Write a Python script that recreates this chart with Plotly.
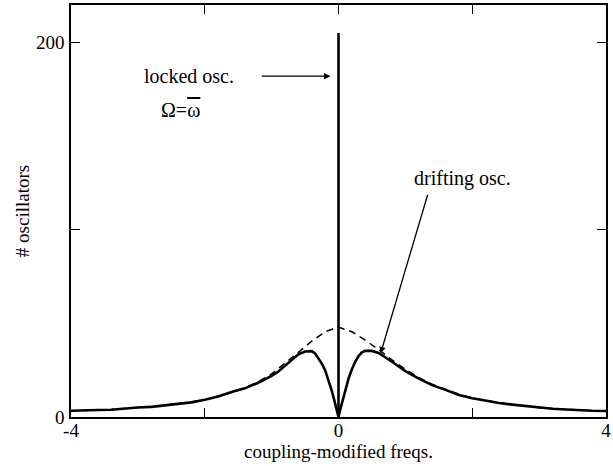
import plotly.graph_objects as go

# solid curve: total distribution (drifting part)
solid_x = [-4.0,-3.8,-3.6,-3.4,-3.2,-3.0,-2.8,-2.6,-2.4,-2.2,-2.0,-1.8,-1.6,-1.4,-1.2,-1.0,-0.9,-0.8,-0.7,-0.6,-0.5,-0.45,-0.4,-0.35,-0.3,-0.25,-0.2,-0.15,-0.1,-0.06,-0.03,0.0,
           0.03,0.06,0.1,0.15,0.2,0.25,0.3,0.35,0.4,0.45,0.5,0.6,0.7,0.8,0.9,1.0,1.2,1.4,1.6,1.8,2.0,2.2,2.4,2.6,2.8,3.0,3.2,3.4,3.6,3.8,4.0]
solid_y = [3.3,3.3,3.7,3.9,4.6,5.1,5.4,6.2,6.8,7.8,9.2,10.9,13.3,15.3,18.3,22.0,24.3,27.2,30.5,33.5,35.0,35.3,35.2,34.0,31.5,28.5,25.0,20.0,14.0,8.5,4.5,0.0,
           4.5,8.5,14.5,20.5,25.5,29.5,32.5,34.5,35.3,35.5,35.3,34.2,32.0,29.5,27.0,24.5,20.5,17.0,14.5,11.8,10.0,8.6,7.5,6.6,5.8,5.0,4.4,4.0,3.5,3.3,3.2]

# locked oscillators spike
locked_x = [0.0, 0.0]
locked_y = [0.0, 205.0]

# dashed curve: uncoupled frequency distribution
dash_x = [-4.0,-3.8,-3.6,-3.4,-3.2,-3.0,-2.8,-2.6,-2.4,-2.2,-2.0,-1.8,-1.6,-1.4,-1.2,-1.0,-0.8,-0.6,-0.4,-0.2,0.0,
          0.2,0.4,0.6,0.8,1.0,1.2,1.4,1.6,1.8,2.0,2.2,2.4,2.6,2.8,3.0,3.2,3.4,3.6,3.8,4.0]
dash_y = [3.2,3.4,3.7,4.0,4.6,5.0,5.6,6.3,7.0,8.0,9.2,10.9,13.0,15.6,18.8,23.0,28.5,34.5,40.5,45.5,48.0,
          45.5,41.0,36.0,30.5,25.5,21.0,17.5,14.8,12.2,10.2,8.8,7.6,6.7,5.8,5.0,4.5,4.0,3.6,3.3,3.2]

x_tickvals = [-4, -2, 0, 2, 4]
x_ticktext = ["-4", "", "0", "", "4"]
y_tickvals = [0, 100, 200]
y_ticktext = ["0", "", "200"]

FONT = "Liberation Serif"
FS = 19
FA = 20

fig = go.Figure()
fig.add_trace(go.Scatter(x=dash_x, y=dash_y, mode="lines",
                         line=dict(color="black", width=1.5, dash="7px,5px"), showlegend=False))
fig.add_trace(go.Scatter(x=solid_x, y=solid_y, mode="lines",
                         line=dict(color="black", width=2.6), showlegend=False))
fig.add_trace(go.Scatter(x=locked_x, y=locked_y, mode="lines",
                         line=dict(color="black", width=2.6), showlegend=False))

fig.add_annotation(x=-2.23, y=182, text="locked osc.", showarrow=False,
                   xref="x", yref="y", font=dict(size=FA, color="black", family=FONT))
fig.add_annotation(x=-2.37, y=164, text="Ω=<span style='text-decoration:overline'>ω</span>", showarrow=False,
                   xref="x", yref="y", font=dict(size=FA, color="black", family=FONT))
fig.add_annotation(x=-0.12, y=182, ax=-1.17, ay=182, axref="x", ayref="y",
                   xref="x", yref="y", text="", showarrow=True,
                   arrowhead=2, arrowsize=1, arrowwidth=1.3, arrowcolor="black")
fig.add_annotation(x=1.86, y=127.5, text="drifting osc.", showarrow=False,
                   xref="x", yref="y", font=dict(size=FA, color="black", family=FONT))
fig.add_annotation(x=0.63, y=34, ax=1.34, ay=119.5, axref="x", ayref="y",
                   xref="x", yref="y", text="", showarrow=True,
                   arrowhead=2, arrowsize=1, arrowwidth=1.3, arrowcolor="black")

axis_common = dict(showline=True, linecolor="black", linewidth=1.5, mirror="allticks",
                   ticks="inside", ticklen=9, tickwidth=1.2, tickcolor="black",
                   showgrid=False, zeroline=False, automargin=False,
                   ticklabeloverflow="allow",
                   tickfont=dict(size=FS, color="black", family=FONT))

fig.update_xaxes(range=[-4, 4], tickvals=x_tickvals, ticktext=x_ticktext,
                 ticklabelstandoff=-5,
                 title=dict(text="coupling-modified freqs.", font=dict(size=FS, color="black", family=FONT), standoff=0),
                 **axis_common)
fig.update_yaxes(range=[0, 220], tickvals=y_tickvals, ticktext=y_ticktext,
                 ticklabelstandoff=1,
                 title=dict(text="# oscillators", font=dict(size=FS, color="black", family=FONT), standoff=1),
                 **axis_common)

fig.update_layout(width=613, height=466, margin=dict(l=71, r=7, t=5, b=49),
                  plot_bgcolor="white", paper_bgcolor="white",
                  font=dict(family=FONT, size=FS, color="black"))

fig.write_html("out.html")
